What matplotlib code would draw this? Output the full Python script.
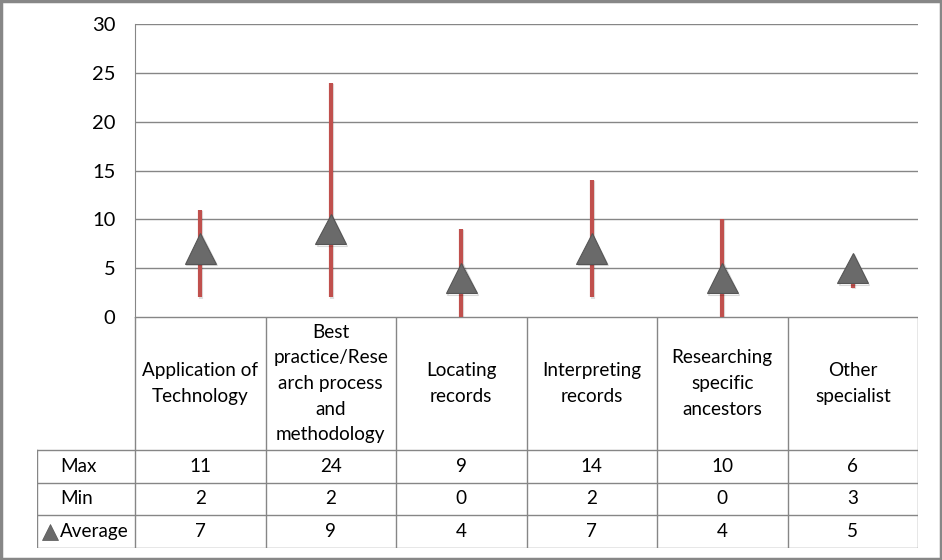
import numpy as np
import matplotlib.pyplot as plt
from matplotlib.patches import Rectangle
import matplotlib.patheffects as pe

plt.rcParams['font.family'] = ['Lato', 'DejaVu Sans']

# Data
categories = ['Application of\nTechnology',
              'Best\npractice/Rese\narch process\nand\nmethodology',
              'Locating\nrecords',
              'Interpreting\nrecords',
              'Researching\nspecific\nancestors',
              'Other\nspecialist']
max_vals = [11, 24, 9, 14, 10, 6]
min_vals = [2, 2, 0, 2, 0, 3]
avg_vals = [7, 9, 4, 7, 4, 5]

W, H = 942, 560
fig = plt.figure(figsize=(W / 100, H / 100), dpi=100)

def px_rect(x0, y0, x1, y1):
    # pixel box (top-left origin) -> figure fraction
    return [x0 / W, 1 - y1 / H, (x1 - x0) / W, (y1 - y0) / H]

# plot area
left, right, top, bottom = 135, 918, 24, 317
ax = fig.add_axes(px_rect(left, top, right, bottom))
x = np.arange(len(categories))
grid_col = '#868686'
red = '#C0504D'
tri_col = '#6A6A6A'
fs = 13.6

ax.set_xlim(-0.5, len(categories) - 0.5)
ax.set_ylim(0, 30)
ax.set_yticks(np.arange(0, 31, 5))
ax.yaxis.grid(True, color=grid_col, linewidth=1)
ax.set_axisbelow(True)
for s in ['top', 'right', 'bottom']:
    ax.spines[s].set_visible(False)
ax.spines['left'].set_color(grid_col)
ax.tick_params(axis='y', length=0, pad=14, labelsize=14.5, colors='black')
ax.set_xticks([])

ax.vlines(x, min_vals, max_vals, color=red, linewidth=3,
          path_effects=[pe.SimpleLineShadow(offset=(0.8, -0.8), alpha=0.12), pe.Normal()])
ax.plot(x, avg_vals, linestyle='none', marker='^', markersize=22,
        markerfacecolor=tri_col, markeredgecolor='#555555', markeredgewidth=0.8,
        path_effects=[pe.SimpleLineShadow(offset=(1, -1), alpha=0.15), pe.Normal()],
        zorder=5)

# data table
tab_left, tab_bottom = 37, 548
colw = (right - left) / len(categories)
tax = fig.add_axes(px_rect(tab_left, bottom, right, tab_bottom))
tax.set_xlim(-0.5 - (left - tab_left) / colw, len(categories) - 0.5)
tax.set_ylim(tab_bottom - bottom, 0)
tax.axis('off')

hdr_h = 450 - bottom
row_h = (tab_bottom - 450) / 3
lab_x = -0.5 - (left - tab_left) / colw
lc = grid_col
lw = 1

# horizontal lines
tax.plot([-0.5, len(categories) - 0.5], [0, 0], color=lc, lw=lw)
for i in range(4):
    yy = hdr_h + i * row_h
    tax.plot([lab_x, len(categories) - 0.5], [yy, yy], color=lc, lw=lw)
# vertical lines
for i in range(len(categories) + 1):
    xx = i - 0.5
    tax.plot([xx, xx], [0, tab_bottom - bottom], color=lc, lw=lw)
tax.plot([lab_x, lab_x], [hdr_h, tab_bottom - bottom], color=lc, lw=lw)

for i, c in enumerate(categories):
    tax.text(i, hdr_h / 2, c, ha='center', va='center', fontsize=fs,
             linespacing=1.62)

rows = [('Max', max_vals), ('Min', min_vals), ('Average', avg_vals)]
for r, (name, vals) in enumerate(rows):
    yc = hdr_h + (r + 0.5) * row_h
    tax.text(lab_x + 23 / colw, yc, name, ha='left', va='center', fontsize=fs)
    for i, v in enumerate(vals):
        tax.text(i, yc, str(v), ha='center', va='center', fontsize=fs)
# legend key for average
tax.plot([lab_x + 13 / colw], [hdr_h + 2.5 * row_h], marker='^', markersize=11,
         markerfacecolor=tri_col, markeredgecolor='#555555', markeredgewidth=0.5)

# figure border
fig.patches.append(Rectangle((0.0015, 0.0025), 0.997, 0.995, transform=fig.transFigure,
                             fill=False, edgecolor='#878787', linewidth=2.5))

fig.savefig('out.png', dpi=100)
